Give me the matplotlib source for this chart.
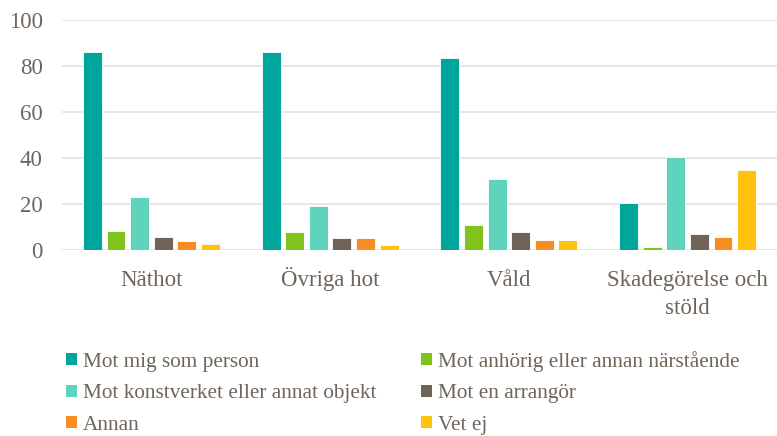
import numpy as np
import matplotlib
matplotlib.use('Agg')
import matplotlib.pyplot as plt
from matplotlib.patches import Patch
import matplotlib.transforms as mtransforms

# ---- data ----
categories = ['Näthot', 'Övriga hot', 'Våld', 'Skadegörelse och\nstöld']
series_names = ['Mot mig som person', 'Mot anhörig eller annan närstående',
                'Mot konstverket eller annat objekt', 'Mot en arrangör',
                'Annan', 'Vet ej']
mot_mig = [86.0, 86.0, 83.6, 20.6]
mot_anhorig = [8.3, 7.7, 11.0, 1.3]
mot_konstverk = [22.9, 19.0, 30.8, 40.4]
mot_arrangor = [5.8, 5.4, 8.0, 7.1]
annan = [3.8, 5.2, 4.5, 5.5]
vet_ej = [2.7, 2.0, 4.5, 34.6]
yticks = [0, 20, 40, 60, 80, 100]

values = [mot_mig, mot_anhorig, mot_konstverk, mot_arrangor, annan, vet_ej]
colors = ['#00a59b', '#7fc31c', '#5fd3bc', '#6f6457', '#f68d22', '#ffc20e']
TXT = '#6f655b'
GRID = '#e8e3e0'

plt.rcParams['font.family'] = 'serif'
plt.rcParams['font.serif'] = ['Liberation Serif', 'Times New Roman', 'DejaVu Serif']

fig = plt.figure(figsize=(7.77, 4.36), dpi=100)
ax = fig.add_axes([62/777, 1-250/436, 1-62/777, 230/436])

x = np.arange(len(categories))
step, width = 0.132, 0.106
offsets = (np.arange(len(values)) - (len(values)-1)/2) * step
for i, (vals, c) in enumerate(zip(values, colors)):
    ax.bar(x + offsets[i], vals, width=width, color=c, edgecolor='white',
           linewidth=0.6, zorder=3)

ax.set_xlim(-0.5, len(categories) - 0.5)
ax.set_ylim(0, 100)
ax.set_yticks(yticks)
ax.yaxis.grid(True, color=GRID, linewidth=1.3, zorder=0)
ax.set_xticks(x)
ax.set_xticklabels([])
ax.tick_params(axis='both', length=0, labelsize=16.5, labelcolor=TXT)
ax.tick_params(axis='y', pad=14)
for sp in ax.spines.values():
    sp.set_visible(False)

# category labels on a common baseline, one line at a time
trans = mtransforms.blended_transform_factory(ax.transData, fig.transFigure)
for xi, lab in zip(x, categories):
    for k, line in enumerate(lab.split('\n')):
        ax.text(xi, 1-(286+28*k)/436, line, transform=trans, ha='center',
                va='baseline', fontsize=16.5, color=TXT)

handles = [Patch(facecolor=c, edgecolor='none') for c in colors]
order = [0, 2, 4, 1, 3, 5]
leg = fig.legend([handles[i] for i in order], [series_names[i] for i in order],
                 ncol=2, loc='upper left', bbox_to_anchor=(66/777, 1-351/436),
                 frameon=False, fontsize=15.3, handlelength=0.5, handleheight=0.5,
                 handletextpad=0.3, columnspacing=2.1, labelspacing=0.58,
                 borderaxespad=0, borderpad=0)
for t in leg.get_texts():
    t.set_color(TXT)

fig.savefig('out.png', dpi=100, facecolor='white')
